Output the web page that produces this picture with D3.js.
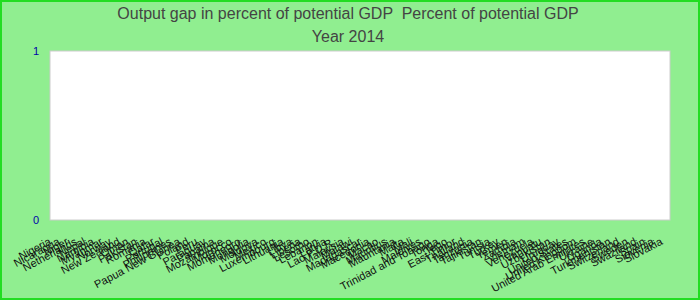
<!DOCTYPE html>
<html>
  <head>
    <meta charset="utf-8">
    <script src="https://d3js.org/d3.v7.min.js"></script>
    <style>
      body { margin: 0; background: #ffffff; }
      svg { display: block; font-family: "Liberation Sans", Arial, sans-serif; }
      .title { white-space: pre; }
    </style>
  </head>
<body>
  <script type="text/javascript">

  // Chart data: category labels, output gap values (nothing plotted above zero), y ticks
  var titleLines = ["Output gap in percent of potential GDP  Percent of potential GDP", "Year 2014"];

  var countries = [
    "Nigeria", "Nicaragua", "Niger", "Netherlands", "Nepal", "Namibia", "Myanmar", "Norway",
    "New Zealand", "Oman", "Pakistan", "Romania", "Qatar", "Portugal", "Philippines",
    "Papua New Guinea", "Poland", "Peru", "Paraguay", "Panama", "Mozambique", "Morocco",
    "Montenegro", "Mongolia", "Moldova", "Mexico", "Luxembourg", "Lithuania", "Libya",
    "Liberia", "Lesotho", "Lebanon", "Latvia", "Lao P.D.R.", "Malaysia", "Malawi",
    "Madagascar", "Macedonia", "Macao", "Mauritius", "Mauritania", "Malta", "Mali", "Maldives",
    "Trinidad and Tobago", "Tonga", "Togo", "East Timor", "Thailand", "Tanzania", "Tajikistan",
    "Tunisia", "Turkey", "Yemen", "Zambia", "Vietnam", "Venezuela", "Vanuatu", "Uzbekistan",
    "Uruguay", "United States", "United Kingdom", "United Arab Emirates", "Ukraine", "Uganda",
    "Turkmenistan", "Switzerland", "Sweden", "Swaziland", "Spain", "Slovenia", "Slovakia"
  ];

  var outputGap = [
    0, 0, 0, 0, 0, 0, 0, 0, 0, 0, 0, 0, 0, 0, 0, 0, 0, 0, 0, 0, 0, 0, 0, 0,
    0, 0, 0, 0, 0, 0, 0, 0, 0, 0, 0, 0, 0, 0, 0, 0, 0, 0, 0, 0, 0, 0, 0, 0,
    0, 0, 0, 0, 0, 0, 0, 0, 0, 0, 0, 0, 0, 0, 0, 0, 0, 0, 0, 0, 0, 0, 0, 0
  ];

  var yTicks = [0, 1];

  var width = 700,
      height = 300,
      margin = {top: 51, right: 30, bottom: 80, left: 50};

  var svg = d3.select("body")
    .append("svg")
      .attr("width", width)
      .attr("height", height);

  // background and border
  svg.append("rect")
    .attr("x", 1).attr("y", 1)
    .attr("width", width - 2).attr("height", height - 2)
    .attr("fill", "#90ee90")
    .attr("stroke", "#22dd22")
    .attr("stroke-width", 2);

  // title
  svg.selectAll(".title")
    .data(titleLines)
    .enter().append("text")
      .attr("class", "title")
      .attr("x", 348)
      .attr("y", function(d, i) { return 19 + i * 23; })
      .attr("text-anchor", "middle")
      .attr("font-size", 16)
      .attr("fill", "#444444")
      .text(function(d) { return d; });

  var x = d3.scaleBand()
    .domain(countries)
    .range([margin.left, width - margin.right]);

  var y = d3.scaleLinear()
    .domain([0, 1])
    .range([height - margin.bottom, margin.top]);

  // plot area
  svg.append("rect")
    .attr("x", margin.left)
    .attr("y", y(1))
    .attr("width", x.range()[1] - x.range()[0])
    .attr("height", y(0) - y(1))
    .attr("fill", "#ffffff")
    .attr("stroke", "#cccccc")
    .attr("stroke-width", 1);

  // bars (all zero)
  svg.selectAll(".bar")
    .data(countries)
    .enter().append("rect")
      .attr("class", "bar")
      .attr("x", function(d) { return x(d) + 1; })
      .attr("width", x.bandwidth() - 2)
      .attr("y", function(d, i) { return y(outputGap[i]); })
      .attr("height", function(d, i) { return y(0) - y(outputGap[i]); })
      .attr("fill", "#3366cc");

  // y axis
  var yAxis = svg.append("g")
    .attr("transform", "translate(" + (margin.left - 8) + ",0)")
    .call(d3.axisLeft(y).tickValues(yTicks).tickSize(0).tickFormat(d3.format("d")));
  yAxis.select(".domain").remove();
  yAxis.selectAll("text")
    .attr("fill", "#0000aa")
    .attr("font-family", "'Liberation Sans', Arial, sans-serif")
    .attr("font-size", 11);

  // x axis, slanted labels
  var xAxis = svg.append("g")
    .attr("transform", "translate(-6," + (y(0) + 17) + ")")
    .call(d3.axisBottom(x).tickSize(0));
  xAxis.select(".domain").remove();
  xAxis.selectAll("text")
    .attr("fill", "#111111")
    .attr("font-family", "'Liberation Sans', Arial, sans-serif")
    .attr("font-size", 11)
    .attr("text-anchor", "end")
    .attr("dy", "0.7em")
    .attr("y", 0)
    .attr("transform", "rotate(-28)");

  </script>
</body>
</html>
